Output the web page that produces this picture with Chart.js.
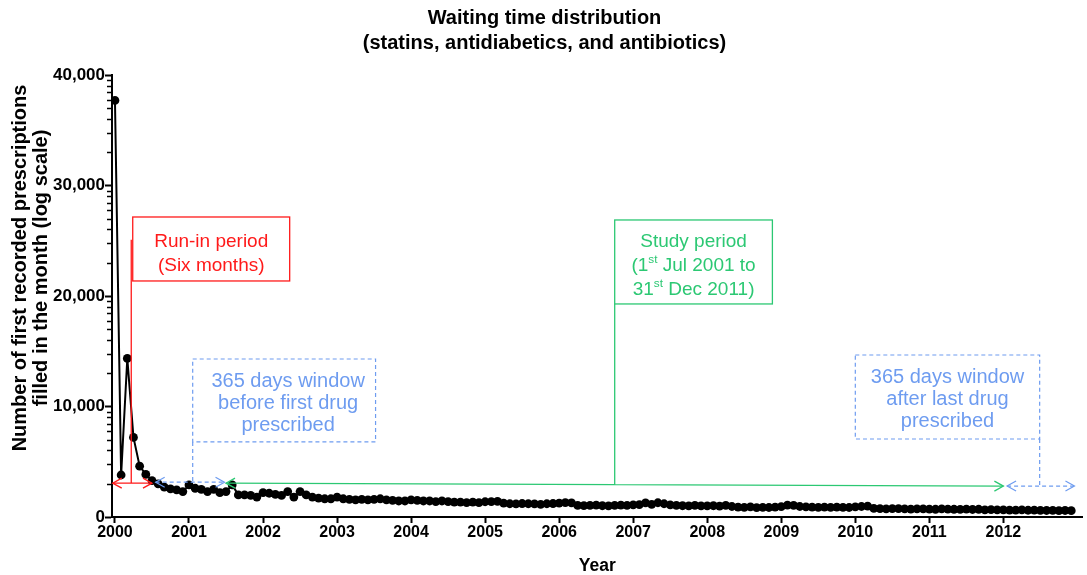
<!DOCTYPE html>
<html>
<head>
<meta charset="utf-8">
<script src="https://cdn.jsdelivr.net/npm/chart.js@4.4.0/dist/chart.umd.min.js"></script>
<style>
  html, body { margin: 0; padding: 0; background: #fff; }
</style>
</head>
<body>
<canvas id="myChart" width="1087" height="575"></canvas>
<script>
// monthly counts, Jan..Dec of each year
const startYear = 2000
const yearTicks = [2000, 2001, 2002, 2003, 2004, 2005, 2006, 2007, 2008, 2009, 2010, 2011, 2012]
const countTicks = [0, 10000, 20000, 30000, 40000]

const counts2000 = [37700, 3800, 14350, 7200, 4600, 3850, 3300, 3000, 2700, 2550, 2450, 2300]
const counts2001 = [2900, 2600, 2500, 2300, 2500, 2200, 2300, 2900, 2000, 2000, 1950, 1800]
const counts2002 = [2200, 2150, 2050, 1950, 2300, 1800, 2300, 2000, 1800, 1700, 1650, 1650]
const counts2003 = [1800, 1650, 1600, 1550, 1600, 1550, 1600, 1650, 1550, 1500, 1450, 1450]
const counts2004 = [1550, 1500, 1450, 1450, 1400, 1450, 1400, 1350, 1350, 1300, 1350, 1300]
const counts2005 = [1380, 1400, 1420, 1250, 1200, 1180, 1220, 1200, 1180, 1150, 1200, 1220]
const counts2006 = [1250, 1300, 1280, 1050, 1030, 1050, 1070, 1020, 1000, 1050, 1080, 1060]
const counts2007 = [1100, 1120, 1280, 1150, 1290, 1200, 1100, 1050, 1020, 1000, 1050, 1000]
const counts2008 = [1000, 1020, 980, 1050, 950, 900, 880, 920, 850, 880, 860, 900]
const counts2009 = [940, 1080, 1050, 950, 920, 900, 880, 900, 880, 900, 880, 860]
const counts2010 = [920, 950, 980, 780, 760, 740, 750, 760, 730, 720, 730, 740]
const counts2011 = [720, 700, 730, 710, 700, 690, 720, 680, 700, 650, 660, 640]
const counts2012 = [640, 630, 620, 640, 610, 620, 600, 590, 600, 580, 590, 570]

const counts = [].concat(counts2000, counts2001, counts2002, counts2003, counts2004, counts2005,
    counts2006, counts2007, counts2008, counts2009, counts2010, counts2011, counts2012)

const points = counts.map((v, i) => ({x: startYear + i / 12, y: v}))

const yTitle = ['Number of first recorded prescriptions', 'filled in the month (log scale)']

const FONT = '"Liberation Sans", Arial, Helvetica, sans-serif'
const RED = '#ff1a1a'
const GREEN = '#2cc873'
const BLUE = '#6e9cf0'

function chevron(ctx, x, y, dir) {
    ctx.beginPath()
    ctx.moveTo(x - dir * 9, y - 5)
    ctx.lineTo(x, y)
    ctx.lineTo(x - dir * 9, y + 5)
    ctx.stroke()
}

// text line made of parts, some of them superscript
function richLine(ctx, parts, cx, y, size) {
    let w = 0
    parts.forEach(p => {
        ctx.font = (p.sup ? size * 0.62 : size) + 'px ' + FONT
        p.w = ctx.measureText(p.t).width
        w += p.w
    })
    let x = cx - w / 2
    ctx.textAlign = 'left'
    parts.forEach(p => {
        ctx.font = (p.sup ? size * 0.62 : size) + 'px ' + FONT
        ctx.fillText(p.t, x, p.sup ? y - size * 0.32 : y)
        x += p.w
    })
}

const annotations = {
    id: 'annotations',
    afterDraw(chart) {
        const ctx = chart.ctx
        const xs = chart.scales.x, ys = chart.scales.y
        const X = v => xs.getPixelForValue(v)
        const Y = v => ys.getPixelForValue(v)
        ctx.save()
        ctx.textBaseline = 'middle'

        // y axis title (sits a bit above the middle of the axis in the original)
        ctx.save()
        ctx.translate(0, 268)
        ctx.rotate(-Math.PI / 2)
        ctx.fillStyle = '#000'
        ctx.font = 'bold 20px ' + FONT
        ctx.textAlign = 'center'
        ctx.fillText(yTitle[0], 0, 20)
        ctx.fillText(yTitle[1], 0, 41)
        ctx.restore()

        // run-in period
        ctx.strokeStyle = RED
        ctx.fillStyle = RED
        ctx.lineWidth = 1.3
        ctx.setLineDash([])
        ctx.strokeRect(X(2000.24), Y(27150), X(2002.36) - X(2000.24), Y(21360) - Y(27150))
        ctx.beginPath()
        ctx.moveTo(X(2000.22), Y(25100))
        ctx.lineTo(X(2000.22), Y(3060))
        ctx.moveTo(X(1999.97), Y(3060))
        ctx.lineTo(X(2000.5), Y(3060))
        ctx.stroke()
        chevron(ctx, X(1999.97), Y(3060), -1)
        chevron(ctx, X(2000.5), Y(3060), 1)
        ctx.font = '19px ' + FONT
        ctx.textAlign = 'center'
        const rx = (X(2000.24) + X(2002.36)) / 2
        ctx.fillText('Run-in period', rx, 242)
        ctx.fillText('(Six months)', rx, 266)

        // study period
        ctx.strokeStyle = GREEN
        ctx.fillStyle = GREEN
        ctx.strokeRect(X(2006.75), Y(26880), X(2008.88) - X(2006.75), Y(19280) - Y(26880))
        ctx.beginPath()
        ctx.moveTo(X(2006.75), Y(19280))
        ctx.lineTo(X(2006.75), Y(2930))
        ctx.moveTo(X(2001.5), Y(3060))
        ctx.lineTo(X(2012.0), Y(2800))
        ctx.stroke()
        chevron(ctx, X(2001.5), Y(3060), -1)
        chevron(ctx, X(2012.0), Y(2800), 1)
        const gx = (X(2006.75) + X(2008.88)) / 2
        ctx.font = '19px ' + FONT
        ctx.textAlign = 'center'
        ctx.fillText('Study period', gx, 242)
        richLine(ctx, [{t: '(1'}, {t: 'st', sup: true}, {t: ' Jul 2001 to'}], gx, 266, 19)
        richLine(ctx, [{t: '31'}, {t: 'st', sup: true}, {t: ' Dec 2011)'}], gx, 290, 19)

        // 365 day windows
        ctx.strokeStyle = BLUE
        ctx.fillStyle = BLUE
        ctx.lineWidth = 1.2
        ctx.setLineDash([4, 3])
        ctx.strokeRect(X(2001.05), Y(14300), X(2003.52) - X(2001.05), Y(6790) - Y(14300))
        ctx.strokeRect(X(2010.0), Y(14660), X(2012.49) - X(2010.0), Y(7060) - Y(14660))
        ctx.beginPath()
        ctx.moveTo(X(2001.05), Y(6790))
        ctx.lineTo(X(2001.05), Y(3150))
        ctx.moveTo(X(2000.55), Y(3150))
        ctx.lineTo(X(2001.48), Y(3150))
        ctx.moveTo(X(2012.49), Y(7060))
        ctx.lineTo(X(2012.49), Y(2800))
        ctx.moveTo(X(2012.05), Y(2800))
        ctx.lineTo(X(2012.96), Y(2800))
        ctx.stroke()
        ctx.setLineDash([])
        chevron(ctx, X(2000.55), Y(3150), -1)
        chevron(ctx, X(2001.48), Y(3150), 1)
        chevron(ctx, X(2012.05), Y(2800), -1)
        chevron(ctx, X(2012.96), Y(2800), 1)
        ctx.font = '20px ' + FONT
        ctx.textAlign = 'center'
        const b1 = (X(2001.05) + X(2003.52)) / 2 + 4
        ctx.fillText('365 days window', b1, 381)
        ctx.fillText('before first drug', b1, 403)
        ctx.fillText('prescribed', b1, 425)
        const b2 = (X(2010.0) + X(2012.49)) / 2
        ctx.fillText('365 days window', b2, 377)
        ctx.fillText('after last drug', b2, 399)
        ctx.fillText('prescribed', b2, 421)

        // minor y ticks
        ctx.strokeStyle = '#000'
        ctx.lineWidth = 1.5
        const left = chart.chartArea.left
        for (let d = 0; d < 4; d++) {
            for (let j = 2; j < 10; j++) {
                const py = Math.round(Y(d * 10000 + 10000 * Math.log10(j))) + 0.5
                ctx.beginPath()
                ctx.moveTo(left - 5, py)
                ctx.lineTo(left - 1, py)
                ctx.stroke()
            }
        }
        ctx.restore()
    }
}

const chartRef = document.getElementById('myChart').getContext('2d')

new Chart(chartRef, {
    type: 'line',
    data: {
        datasets: [
            {
                label: 'First recorded prescriptions',
                data: points,
                borderColor: '#000',
                backgroundColor: '#000',
                borderWidth: 2,
                pointRadius: 4.4,
                pointBorderWidth: 0,
                tension: 0,
            }
        ]
    },
    options: {
        responsive: false,
        animation: false,
        devicePixelRatio: 1,
        layout: {padding: {left: 4, right: 2, top: 4, bottom: 0}},
        plugins: {
            legend: {display: false},
            tooltip: {enabled: false},
            title: {
                display: true,
                text: ['Waiting time distribution', '(statins, antidiabetics, and antibiotics)'],
                color: '#000',
                font: {family: FONT, size: 20, weight: 'bold', lineHeight: 1.25},
                padding: {top: 2, bottom: 19},
            },
        },
        scales: {
            x: {
                type: 'linear',
                min: 1999.96,
                max: 2013.07,
                afterBuildTicks: s => { s.ticks = yearTicks.map(v => ({value: v})) },
                afterFit: s => { s.height = 58 },
                ticks: {
                    callback: v => String(v),
                    color: '#000',
                    font: {family: FONT, size: 16, weight: 'bold'},
                    padding: 0,
                    maxRotation: 0,
                    autoSkip: false,
                },
                grid: {drawOnChartArea: false, drawTicks: true, tickLength: 6, tickColor: '#000', tickWidth: 2},
                border: {color: '#000', width: 2},
                title: {
                    display: true,
                    text: 'Year',
                    color: '#000',
                    font: {family: FONT, size: 17.5, weight: 'bold', lineHeight: 1},
                    padding: {top: 0, bottom: 0},
                },
            },
            y: {
                min: 0,
                max: 40000,
                afterBuildTicks: s => { s.ticks = countTicks.map(v => ({value: v})) },
                afterFit: s => { s.width = 108 },
                ticks: {
                    callback: v => v.toLocaleString('en-US'),
                    color: '#000',
                    font: {family: FONT, size: 17, weight: 'bold'},
                    padding: 0,
                },
                grid: {drawOnChartArea: false, drawTicks: true, tickLength: 7, tickColor: '#000', tickWidth: 2},
                border: {color: '#000', width: 2},
                title: {display: false},
            },
        },
    },
    plugins: [annotations],
})
</script>
</body>
</html>
